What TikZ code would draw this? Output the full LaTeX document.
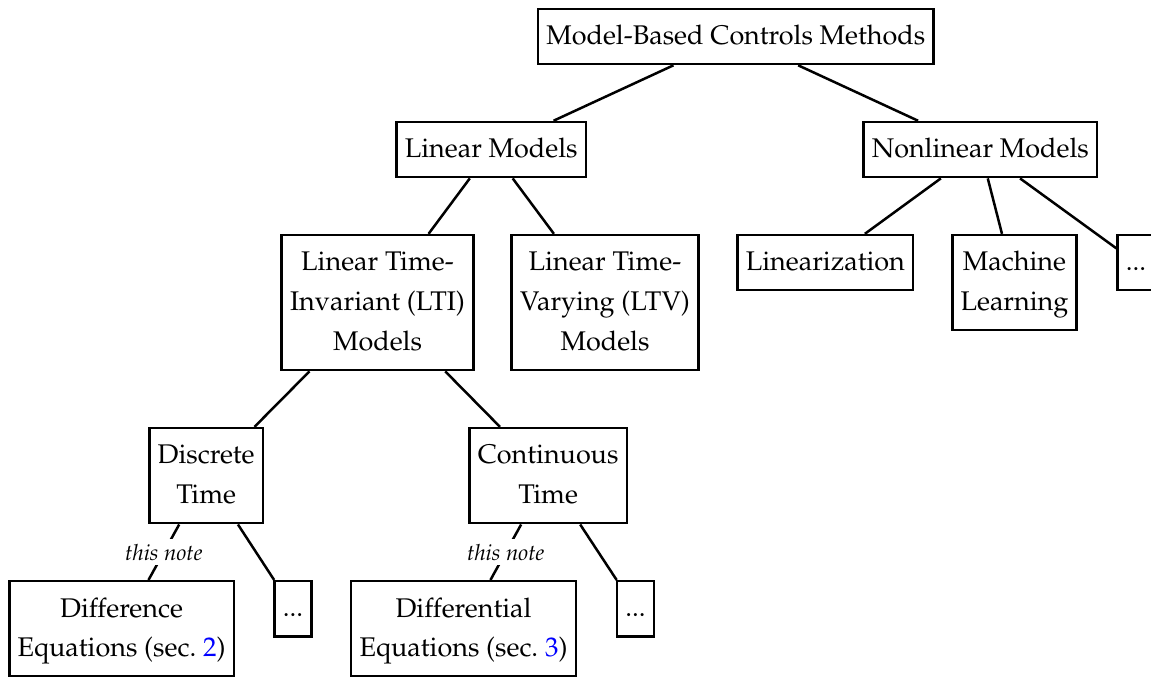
\documentclass[tikz,border=0pt]{standalone}
\usepackage[T1]{fontenc}
\usepackage{mathpazo}
\usepackage{tikz}
\usetikzlibrary{positioning}

\newcommand{\boxstrut}{\rule[-4.4pt]{0pt}{15.4pt}}

\begin{document}
\begin{tikzpicture}[
    node distance=0.78cm,
    block/.style={rectangle, draw, line width=1pt, align=center, font=\fontsize{10.8}{16}\selectfont, execute at begin node=\boxstrut, execute at end node=\boxstrut},
    link/.style={line width=1pt},
    note/.style={midway, fill=white, inner sep=2pt, font=\fontsize{8.9}{11}\selectfont\itshape}
]
\useasboundingbox (-10.35,-9.005) rectangle (5.84,0.513);

% Top level
\node[block] (methods) {Model-Based Controls Methods};

% Second level
\node[block, below=of methods, xshift=-3.44cm] (linear) {Linear Models};
\node[block, below=of methods, xshift=3.44cm] (nonlinear) {Nonlinear Models};

% Linear children
\node[block, below=of linear, xshift=-1.6cm] (lti) {\boxstrut Linear Time-\\Invariant (LTI)\\Models};
\node[block, below=of linear, xshift=1.6cm] (ltv) {\boxstrut Linear Time-\\Varying (LTV)\\Models};

% Nonlinear children
\node[block, below=of nonlinear, xshift=-2.18cm] (linearization) {Linearization};
\node[block, below=of nonlinear, xshift=0.48cm] (learning) {\boxstrut Machine\\Learning};
\node[block, below=of nonlinear, xshift=2.19cm] (moreNL) {...};

% LTI children
\node[block, below=of lti, xshift=-2.41cm] (discrete) {\boxstrut Discrete\\Time};
\node[block, below=of lti, xshift=2.4cm] (continuous) {\boxstrut Continuous\\Time};

% Time children
\node[block, below=of discrete, xshift=-1.19cm] (difference) {\boxstrut Difference\\Equations (sec.~\textcolor{blue}{2})};
\node[block, below=of discrete, xshift=1.22cm] (moreDT) {...};
\node[block, below=of continuous, xshift=-1.19cm] (differential) {\boxstrut Differential\\Equations (sec.~\textcolor{blue}{3})};
\node[block, below=of continuous, xshift=1.23cm] (moreCT) {...};

% Lines
\draw[link] (methods) -- (linear);
\draw[link] (methods) -- (nonlinear);
\draw[link] (linear) -- (lti);
\draw[link] (linear) -- (ltv);
\draw[link] (nonlinear) -- (linearization);
\draw[link] (nonlinear) -- (learning);
\draw[link] (nonlinear) -- (moreNL);
\draw[link] (lti) -- (discrete);
\draw[link] (lti) -- (continuous);
\draw[link] (discrete) -- node[note] {this note} (difference);
\draw[link] (discrete) -- (moreDT);
\draw[link] (continuous) -- node[note] {this note} (differential);
\draw[link] (continuous) -- (moreCT);
\end{tikzpicture}
\end{document}
